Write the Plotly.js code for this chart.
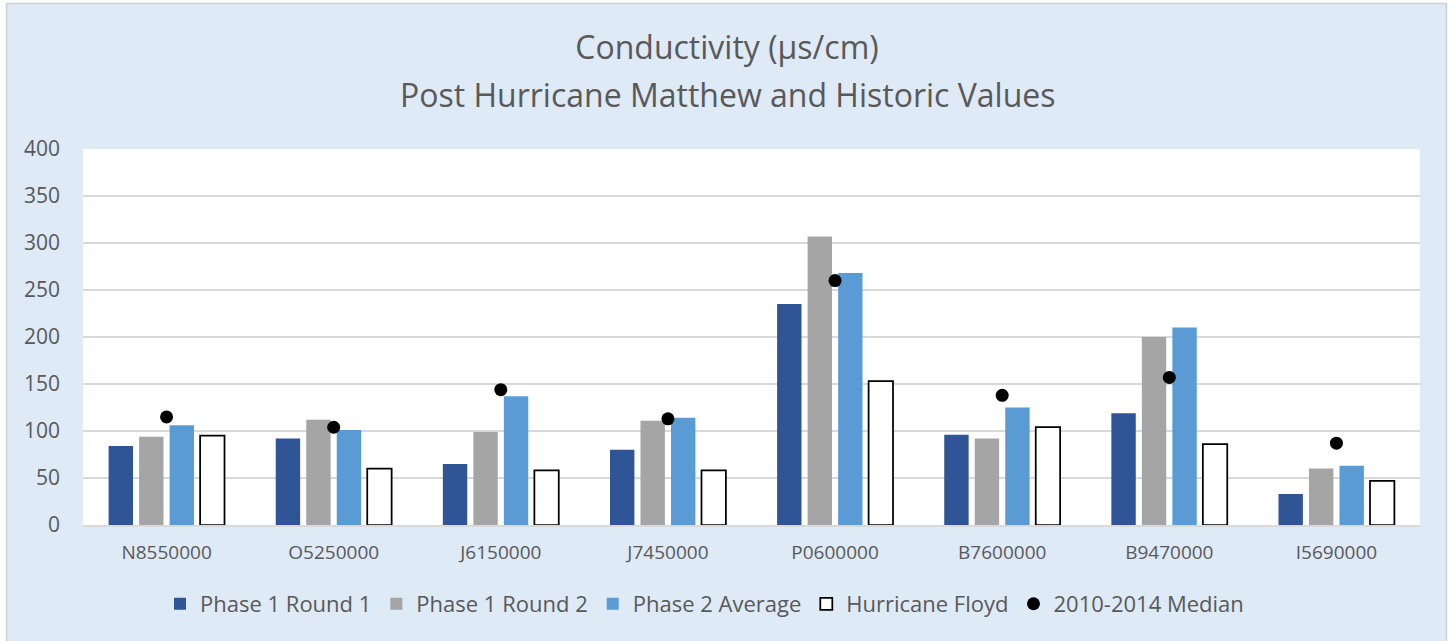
<!DOCTYPE html>
<html>
<head>
<meta charset="utf-8">
<script src="https://cdn.plot.ly/plotly-3.0.1.min.js"></script>
<style>html,body{margin:0;padding:0;background:#fff;}#chart{width:1453px;height:641px;}</style>
</head>
<body>
<div id="chart"></div>
<script>
const categories = ["N8550000","O5250000","J6150000","J7450000","P0600000","B7600000","B9470000","I5690000"];
const phase1Round1 = [84, 92, 65, 80, 235, 96, 119, 33];
const phase1Round2 = [94, 112, 99, 111, 307, 92, 200, 60];
const phase2Average = [106, 101, 137, 114, 268, 125, 210, 63];
const hurricaneFloyd = [95, 60, 58, 58, 153, 104, 86, 47];
const median20102014 = [115, 104, 144, 113, 260, 138, 157, 87];
const yTicks = [0, 50, 100, 150, 200, 250, 300, 350, 400];
const titleLine1 = "Conductivity (µs/cm)";
const titleLine2 = "Post Hurricane Matthew and Historic Values";

const FONT = "'Open Sans', Calibri, Carlito, sans-serif";
const TXT = "#595959";

const traces = [
  {type:"bar", name:"Phase 1 Round 1", x:categories, y:phase1Round1, marker:{color:"#2F5597"}},
  {type:"bar", name:"Phase 1 Round 2", x:categories, y:phase1Round2, marker:{color:"#A5A5A5"}},
  {type:"bar", name:"Phase 2 Average", x:categories, y:phase2Average, marker:{color:"#5B9BD5"}},
  {type:"bar", name:"Hurricane Floyd", x:categories, y:hurricaneFloyd, marker:{color:"#FFFFFF", line:{color:"#000000", width:1.75}}},
  {type:"scatter", mode:"markers", name:"2010-2014 Median", x:categories, y:median20102014, marker:{color:"#000000", size:13}}
];

const layout = {
  width:1453, height:641,
  margin:{l:83, r:33, t:149, b:116},
  paper_bgcolor:"#FFFFFF",
  plot_bgcolor:"#FFFFFF",
  font:{family:FONT, color:TXT},
  title:{text:titleLine1, font:{size:32, color:TXT, family:FONT}, x:727/1453, xanchor:"center", y:1-48/641, yanchor:"middle", yref:"container"},
  annotations:[
    {text:titleLine2, xref:"paper", yref:"paper", x:(727-83)/1337, y:(525-94)/376, xanchor:"center", yanchor:"middle", showarrow:false, font:{size:32, color:TXT, family:FONT}}
  ],
  barmode:"group",
  bargap:0.27,
  bargroupgap:0.2,
  showlegend:true,
  legend:{orientation:"h", x:(160-83)/1337, xanchor:"left", y:-0.21, yanchor:"middle", font:{size:22, color:TXT, family:FONT}, bgcolor:"rgba(0,0,0,0)", itemwidth:30, traceorder:"normal"},
  xaxis:{type:"category", showgrid:false, showline:true, linecolor:"#D9D9D9", linewidth:2, ticks:"", tickfont:{size:19, color:TXT, family:FONT}, ticklabelstandoff:9, zeroline:false},
  yaxis:{range:[0,400], tickvals:yTicks, showgrid:true, gridcolor:"#D9D9D9", gridwidth:1.5, zeroline:false, showline:false, ticks:"", tickfont:{size:21, color:TXT, family:FONT}, ticklabelstandoff:22},
  shapes:[
    {type:"rect", xref:"paper", yref:"paper", x0:-0.0572, x1:1.0198, y0:-0.33, y1:1.387, fillcolor:"#DEEAF6", line:{color:"#D0D0D0", width:1.5}, layer:"below"},
    {type:"rect", xref:"paper", yref:"paper", x0:0, x1:1, y0:0, y1:1, fillcolor:"#FFFFFF", line:{width:0}, layer:"below"}
  ]
};

Plotly.newPlot("chart", traces, layout, {displayModeBar:false, staticPlot:true});
</script>
</body>
</html>
